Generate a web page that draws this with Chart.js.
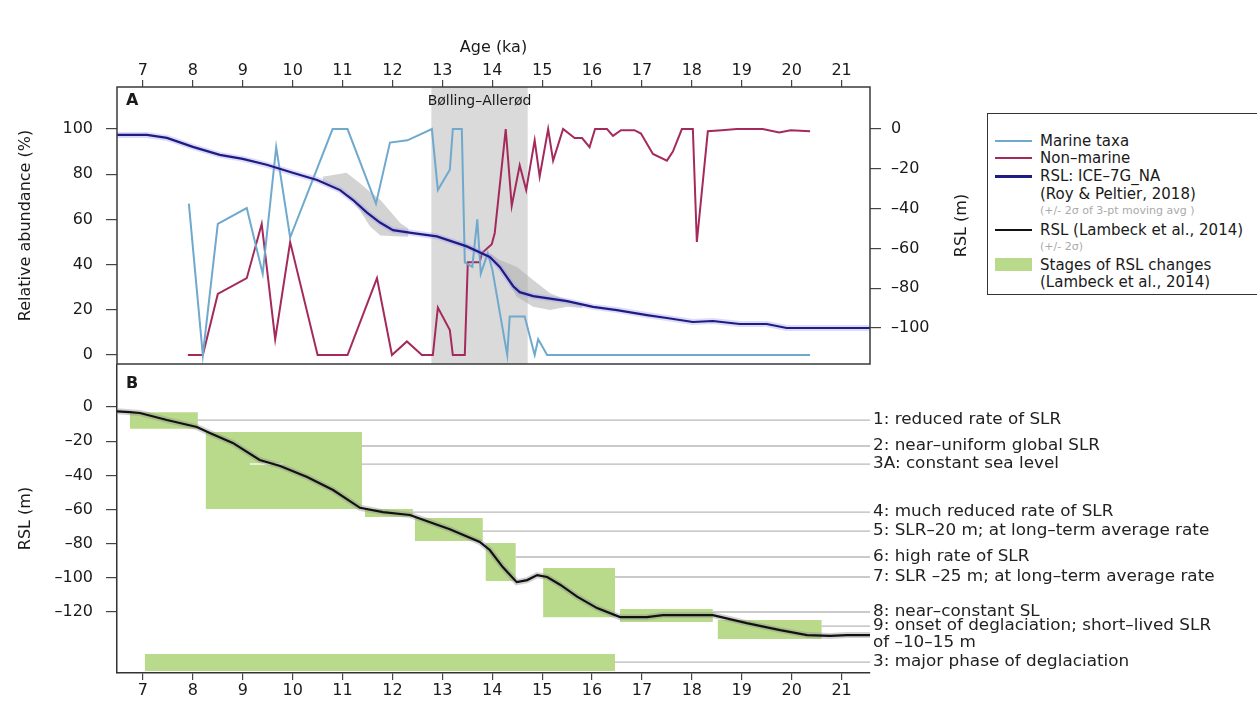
<!DOCTYPE html>
<html>
<head>
<meta charset="utf-8">
<title>Marine / non-marine abundance and RSL</title>
<script src="https://cdn.jsdelivr.net/npm/chart.js@4.4.0/dist/chart.umd.min.js"></script>
<style>
    html, body { margin: 0; padding: 0; background: #fff; }
    #page { position: relative; width: 1257px; height: 715px; overflow: hidden; font-family: "DejaVu Sans", sans-serif; color: #1a1a1a; }
    #chartA { position: absolute; left: 0; top: 0; }
    #chartB { position: absolute; left: 0; top: 364px; }
    #legend { position: absolute; left: 987px; top: 113px; width: 320px; height: 182px; border: 1.5px solid #333; box-sizing: border-box; background: #fff; }
    #legend .row { position: absolute; left: 52px; white-space: nowrap; font-size: 15px; line-height: 16px; }
    #legend .sub { color: #aaa; font-size: 11px; line-height: 13px; }
    #legend .swatch { position: absolute; left: 7px; width: 37px; }
</style>
</head>
<body>
<div id="page">
    <canvas id="chartA" width="1257" height="366"></canvas>
    <canvas id="chartB" width="1257" height="351"></canvas>
    <div id="legend">
        <div class="swatch" style="top:26px;height:2px;background:#6fa9cd"></div>
        <div class="row" style="top:19px">Marine taxa</div>
        <div class="swatch" style="top:43px;height:2px;background:#a52a5c"></div>
        <div class="row" style="top:36px">Non–marine</div>
        <div class="swatch" style="top:61px;height:3px;background:#1c1c82"></div>
        <div class="row" style="top:54px">RSL: ICE–7G_NA</div>
        <div class="row" style="top:72px">(Roy &amp; Peltier, 2018)</div>
        <div class="row sub" style="top:90px">(+/- 2σ of 3-pt moving avg )</div>
        <div class="swatch" style="top:115px;height:2px;background:#111"></div>
        <div class="row" style="top:108px">RSL (Lambeck et al., 2014)</div>
        <div class="row sub" style="top:126px">(+/- 2σ)</div>
        <div class="swatch" style="top:144px;height:13px;background:#b9da8b"></div>
        <div class="row" style="top:143px">Stages of RSL changes</div>
        <div class="row" style="top:160px">(Lambeck et al., 2014)</div>
    </div>
</div>
<script>
// Shared age axis (ka)
const xMin = 6.48;
const xMax = 21.57;
const ageTicks = [7, 8, 9, 10, 11, 12, 13, 14, 15, 16, 17, 18, 19, 20, 21];

// Axis ticks
const pctTicks = [0, 20, 40, 60, 80, 100];
const rslTicksA = [0, -20, -40, -60, -80, -100];
const rslTicksB = [0, -20, -40, -60, -80, -100, -120];

// Bølling–Allerød interval (ka)
const baRange = [12.78, 14.71];

// Marine taxa (%)
const marineAge = [7.92, 8.2, 8.5, 9.08, 9.4, 9.67, 9.95, 10.8, 11.1, 11.67, 11.95, 12.3, 12.79, 12.91, 13.15, 13.21, 13.39, 13.45, 13.6, 13.7, 13.77, 13.91, 14.0, 14.3, 14.35, 14.65, 14.85, 14.92, 15.1, 20.37];
const marinePct = [67, 0, 58, 65, 36, 92, 52, 100, 100, 67, 94, 95, 100, 73, 82, 100, 100, 41, 39, 60, 36, 45, 38, 0, 17, 17, 0, 7, 0, 0];

// Non-marine taxa (%)
const nonMarineAge = [7.9, 8.2, 8.5, 9.08, 9.38, 9.65, 9.95, 10.5, 11.1, 11.69, 11.99, 12.29, 12.59, 12.81, 12.91, 13.15, 13.21, 13.45, 13.51, 13.75, 13.79, 13.99, 14.05, 14.27, 14.39, 14.55, 14.68, 14.85, 14.95, 15.12, 15.22, 15.42, 15.65, 15.8, 15.95, 16.06, 16.3, 16.42, 16.58, 16.85, 16.98, 17.22, 17.5, 17.62, 17.8, 18.02, 18.1, 18.32, 18.6, 18.9, 19.42, 19.75, 19.98, 20.37];
const nonMarinePct = [0, 0, 27, 34, 58, 7, 50, 0, 0, 34, 0, 6, 0, 0, 21, 11, 0, 0, 41, 41, 45, 49, 54, 100, 66, 84, 73, 95, 79, 100, 86, 100, 96, 96, 92, 100, 100, 97, 99.5, 99.5, 98, 89, 86, 90, 100, 100, 50, 99, 99.5, 100, 100, 98.5, 99.5, 99];

// RSL: ICE-7G_NA (m)
const iceAge = [6.48, 7.08, 7.48, 8.0, 8.54, 9.0, 9.48, 10.0, 10.49, 10.95, 11.21, 11.49, 11.75, 12.01, 12.41, 12.89, 13.49, 13.95, 14.15, 14.42, 14.55, 14.82, 15.5, 16.02, 16.5, 17.1, 17.5, 18.02, 18.42, 18.96, 19.5, 19.9, 21.57];
const iceRsl = [-3, -3, -4.5, -9, -13, -15, -18, -22, -25.6, -30.7, -35.7, -42, -47, -50.8, -52.3, -54, -59, -64.3, -69.3, -79, -82, -84, -86.5, -89.4, -91, -93.5, -95, -97, -96.5, -98, -98, -100, -100];

// +/- 2 sigma of 3-pt moving average (m)
const band1Age = [10.6, 11.08, 11.35, 11.55, 11.76, 12.16, 12.32];
const band1Upper = [-24, -22, -27.3, -31.5, -35.7, -47.4, -50];
const band1Lower = [-27.3, -32.3, -41, -49, -53.5, -54, -54.1];
const band2Age = [13.95, 14.15, 14.49, 14.82, 15.16, 15.5, 15.8];
const band2Upper = [-62.3, -65.8, -69.2, -75.9, -82.5, -86, -88];
const band2Lower = [-65, -69.2, -84.3, -89.3, -91, -89.3, -90];

// RSL (Lambeck et al.) (m)
const lambeckAge = [6.48, 6.74, 6.94, 7.48, 8.08, 8.34, 8.8, 9.34, 9.75, 10.29, 10.81, 11.35, 11.81, 12.35, 12.81, 13.15, 13.75, 13.95, 14.21, 14.49, 14.7, 14.9, 15.1, 15.36, 15.7, 16.1, 16.56, 17.1, 17.42, 18.42, 19.1, 19.77, 20.31, 20.77, 21.11, 21.57];
const lambeckRsl = [-2.5, -3, -3.5, -7.6, -11.7, -15.2, -21, -31, -34.5, -41, -48.6, -59, -61.5, -63.2, -68, -71.5, -79, -83.7, -93.7, -102.5, -101.3, -98.4, -99.5, -104, -111, -117.7, -123, -123, -121.8, -121.8, -126.5, -130.6, -133.5, -134, -133.5, -133.5];

// Stages of RSL change (boxes)
const stageStart = [6.74, 8.26, 11.45, 12.45, 13.87, 15.02, 16.56, 18.52, 7.04];
const stageEnd = [8.1, 11.39, 12.41, 13.81, 14.47, 16.46, 18.42, 20.6, 16.46];
const stageTop = [-3, -14.6, -59.7, -65, -79.6, -94.3, -118.3, -124.7, -144.6];
const stageBottom = [-12.7, -59.7, -64.4, -78.4, -101.9, -123, -125.9, -135.8, -154.5];

// Stage notes (text, level of guide line, where the guide line starts)
const noteText = [
    ['1: reduced rate of SLR'],
    ['2: near–uniform global SLR'],
    ['3A: constant sea level'],
    ['4: much reduced rate of SLR'],
    ['5: SLR–20 m; at long–term average rate'],
    ['6: high rate of SLR'],
    ['7: SLR –25 m; at long–term average rate'],
    ['8: near–constant SL'],
    ['9: onset of deglaciation; short–lived SLR', 'of –10–15 m'],
    ['3: major phase of deglaciation']
];
const noteRsl = [-7.6, -22.8, -33.4, -61.5, -72.6, -87.8, -99.5, -120, -128.2, -149.3];
const noteFrom = [8.1, 11.39, 11.39, 12.41, 13.81, 14.47, 16.46, 18.42, 20.6, 16.46];

// Stage 3A constant-level marker
const plateauAge = [9.14, 9.8];
const plateauRsl = [-33.4, -33.4];

// Helpers
const FONT = '"DejaVu Sans", sans-serif';
const axisFont = { family: FONT, size: 16 };
const ink = '#1a1a1a';

function zip(xs, ys) {
    return xs.map((x, i) => ({ x: x, y: ys[i] }));
}

function dash(v) {
    return v < 0 ? '\u2013' + Math.abs(v) : String(v);
}

function fixTicks(list) {
    return s => { s.ticks = list.map(v => ({ value: v })); };
}

function lineSet(data, color, width, yAxisID) {
    return { data: data, borderColor: color, borderWidth: width, yAxisID: yAxisID, fill: false, pointRadius: 0, tension: 0 };
}

Chart.defaults.font.family = FONT;
Chart.defaults.color = ink;
Chart.defaults.animation = false;

// Panel A extras: Bølling–Allerød band, frame, labels
const panelAPlugin = {
    id: 'panelA',
    beforeDraw(chart) {
        const { ctx, chartArea: a, scales: { x } } = chart;
        const x0 = x.getPixelForValue(baRange[0]);
        const x1 = x.getPixelForValue(baRange[1]);
        ctx.save();
        ctx.fillStyle = '#dadada';
        ctx.fillRect(x0, a.top, x1 - x0, a.bottom - a.top);
        ctx.restore();
    },
    afterDraw(chart) {
        const { ctx, chartArea: a, scales: { x } } = chart;
        ctx.save();
        ctx.strokeStyle = '#3a3a3a';
        ctx.lineWidth = 1.5;
        ctx.strokeRect(a.left, a.top, a.right - a.left, a.bottom - a.top);

        ctx.fillStyle = ink;
        ctx.textBaseline = 'middle';
        ctx.font = 'bold 16px ' + FONT;
        ctx.fillText('A', a.left + 9, a.top + 14);

        ctx.font = '14px ' + FONT;
        ctx.textAlign = 'center';
        const mid = (x.getPixelForValue(baRange[0]) + x.getPixelForValue(baRange[1])) / 2;
        ctx.fillText('Bølling–Allerød', mid, a.top + 14);

        ctx.font = '16px ' + FONT;
        ctx.translate(a.right + 92, (a.top + a.bottom) / 2);
        ctx.rotate(-Math.PI / 2);
        ctx.fillText('RSL (m)', 0, 0);
        ctx.restore();
    }
};

// Panel B extras: label and stage notes
const panelBPlugin = {
    id: 'panelB',
    afterDraw(chart) {
        const { ctx, chartArea: a, scales: { y } } = chart;
        ctx.save();
        ctx.fillStyle = ink;
        ctx.textBaseline = 'middle';
        ctx.font = 'bold 16px ' + FONT;
        ctx.fillText('B', a.left + 9, a.top + 20);

        ctx.font = '15px ' + FONT;
        ctx.fillStyle = '#222';
        noteText.forEach((lines, i) => {
            const py = y.getPixelForValue(noteRsl[i]);
            lines.forEach((t, j) => {
                ctx.save();
                ctx.translate(a.right + 3, py + j * 17);
                ctx.scale(1.12, 1);
                ctx.fillText(t, 0, 0);
                ctx.restore();
            });
        });
        ctx.restore();
    }
};

const tickGrid = { drawOnChartArea: false, color: '#444', lineWidth: 1.2 };

// Panel A
new Chart(document.getElementById('chartA'), {
    type: 'line',
    data: {
        datasets: [
            lineSet(zip(iceAge, iceRsl), '#1c1c82', 2.2, 'yR'),
            lineSet(zip(iceAge, iceRsl), 'rgba(160, 150, 240, 0.35)', 6, 'yR'),
            lineSet(zip(marineAge, marinePct), '#6fa9cd', 2, 'yL'),
            lineSet(zip(nonMarineAge, nonMarinePct), '#a52a5c', 2, 'yL'),
            lineSet(zip(band2Age, band2Upper), 'rgba(0,0,0,0)', 0, 'yR'),
            Object.assign(lineSet(zip(band2Age, band2Lower), 'rgba(0,0,0,0)', 0, 'yR'),
                { fill: '-1', backgroundColor: 'rgba(175, 175, 175, 0.55)' }),
            lineSet(zip(band1Age, band1Upper), 'rgba(0,0,0,0)', 0, 'yR'),
            Object.assign(lineSet(zip(band1Age, band1Lower), 'rgba(0,0,0,0)', 0, 'yR'),
                { fill: '-1', backgroundColor: 'rgba(175, 175, 175, 0.55)' })
        ]
    },
    options: {
        responsive: false,
        devicePixelRatio: 1,
        layout: { padding: { top: 0, right: 0, bottom: 2, left: 0 } },
        plugins: { legend: { display: false }, tooltip: { enabled: false } },
        scales: {
            x: {
                type: 'linear', position: 'top', min: xMin, max: xMax,
                afterBuildTicks: fixTicks(ageTicks),
                afterFit: s => { s.height = 87; s.paddingLeft = 0; s.paddingRight = 0; },
                grid: Object.assign({ tickLength: 7 }, tickGrid),
                border: { display: false },
                ticks: { font: axisFont, color: ink, padding: 0, maxRotation: 0, autoSkip: false },
                title: { display: true, text: 'Age (ka)', font: axisFont, color: ink, padding: { top: 38 } }
            },
            yL: {
                type: 'linear', position: 'left', min: -3.98, max: 118.6,
                afterBuildTicks: fixTicks(pctTicks),
                afterFit: s => { s.width = 117; s.paddingTop = 0; s.paddingBottom = 0; },
                grid: Object.assign({ tickLength: 11 }, tickGrid),
                border: { display: false },
                ticks: { font: axisFont, color: ink, padding: 13 },
                title: { display: true, text: 'Relative abundance (%)', font: axisFont, color: ink, padding: { top: 16 } }
            },
            yR: {
                type: 'linear', position: 'right', min: -118.1, max: 21.1,
                afterBuildTicks: fixTicks(rslTicksA),
                afterFit: s => { s.width = 387; s.paddingTop = 0; s.paddingBottom = 0; },
                grid: Object.assign({ tickLength: 11 }, tickGrid),
                border: { display: false },
                ticks: { font: axisFont, color: ink, padding: 10, callback: dash }
            }
        }
    },
    plugins: [panelAPlugin]
});

// Panel B datasets: curve on top, then guides, then stage boxes
const guideSets = noteRsl.map((v, i) =>
    lineSet([{ x: noteFrom[i], y: v }, { x: xMax, y: v }], '#b8b8b8', 1.3, 'y'));

const boxSets = stageStart.map((s, i) => Object.assign(
    lineSet([
        { x: s, y: stageTop[i] },
        { x: stageEnd[i], y: stageTop[i] },
        { x: stageEnd[i], y: stageBottom[i] },
        { x: s, y: stageBottom[i] },
        { x: s, y: stageTop[i] }
    ], 'rgba(0,0,0,0)', 0, 'y'),
    { fill: 'shape', backgroundColor: '#b9da8b' }));

new Chart(document.getElementById('chartB'), {
    type: 'line',
    data: {
        datasets: [
            lineSet(zip(lambeckAge, lambeckRsl), '#111', 2.2, 'y'),
            lineSet(zip(lambeckAge, lambeckRsl), 'rgba(140, 140, 140, 0.4)', 6, 'y'),
            lineSet(zip(plateauAge, plateauRsl), 'rgba(255, 255, 255, 0.85)', 1.5, 'y')
        ].concat(guideSets, boxSets)
    },
    options: {
        responsive: false,
        devicePixelRatio: 1,
        layout: { padding: { top: 0, right: 387, bottom: 0, left: 0 } },
        plugins: { legend: { display: false }, tooltip: { enabled: false } },
        scales: {
            x: {
                type: 'linear', position: 'bottom', min: xMin, max: xMax,
                afterBuildTicks: fixTicks(ageTicks),
                afterFit: s => { s.height = 42; s.paddingLeft = 0; s.paddingRight = 0; },
                grid: Object.assign({ tickLength: 7 }, tickGrid),
                border: { display: true, color: '#333', width: 1.5 },
                ticks: { font: axisFont, color: ink, padding: 1, maxRotation: 0, autoSkip: false }
            },
            y: {
                type: 'linear', position: 'left', min: -155.7, max: 25.2,
                afterBuildTicks: fixTicks(rslTicksB),
                afterFit: s => { s.width = 117; s.paddingTop = 0; s.paddingBottom = 0; },
                grid: Object.assign({ tickLength: 11 }, tickGrid),
                border: { display: true, color: '#333', width: 1.5 },
                ticks: { font: axisFont, color: ink, padding: 13, callback: dash },
                title: { display: true, text: 'RSL (m)', font: axisFont, color: ink, padding: { top: 16 } }
            }
        }
    },
    plugins: [panelBPlugin]
});
</script>
</body>
</html>
